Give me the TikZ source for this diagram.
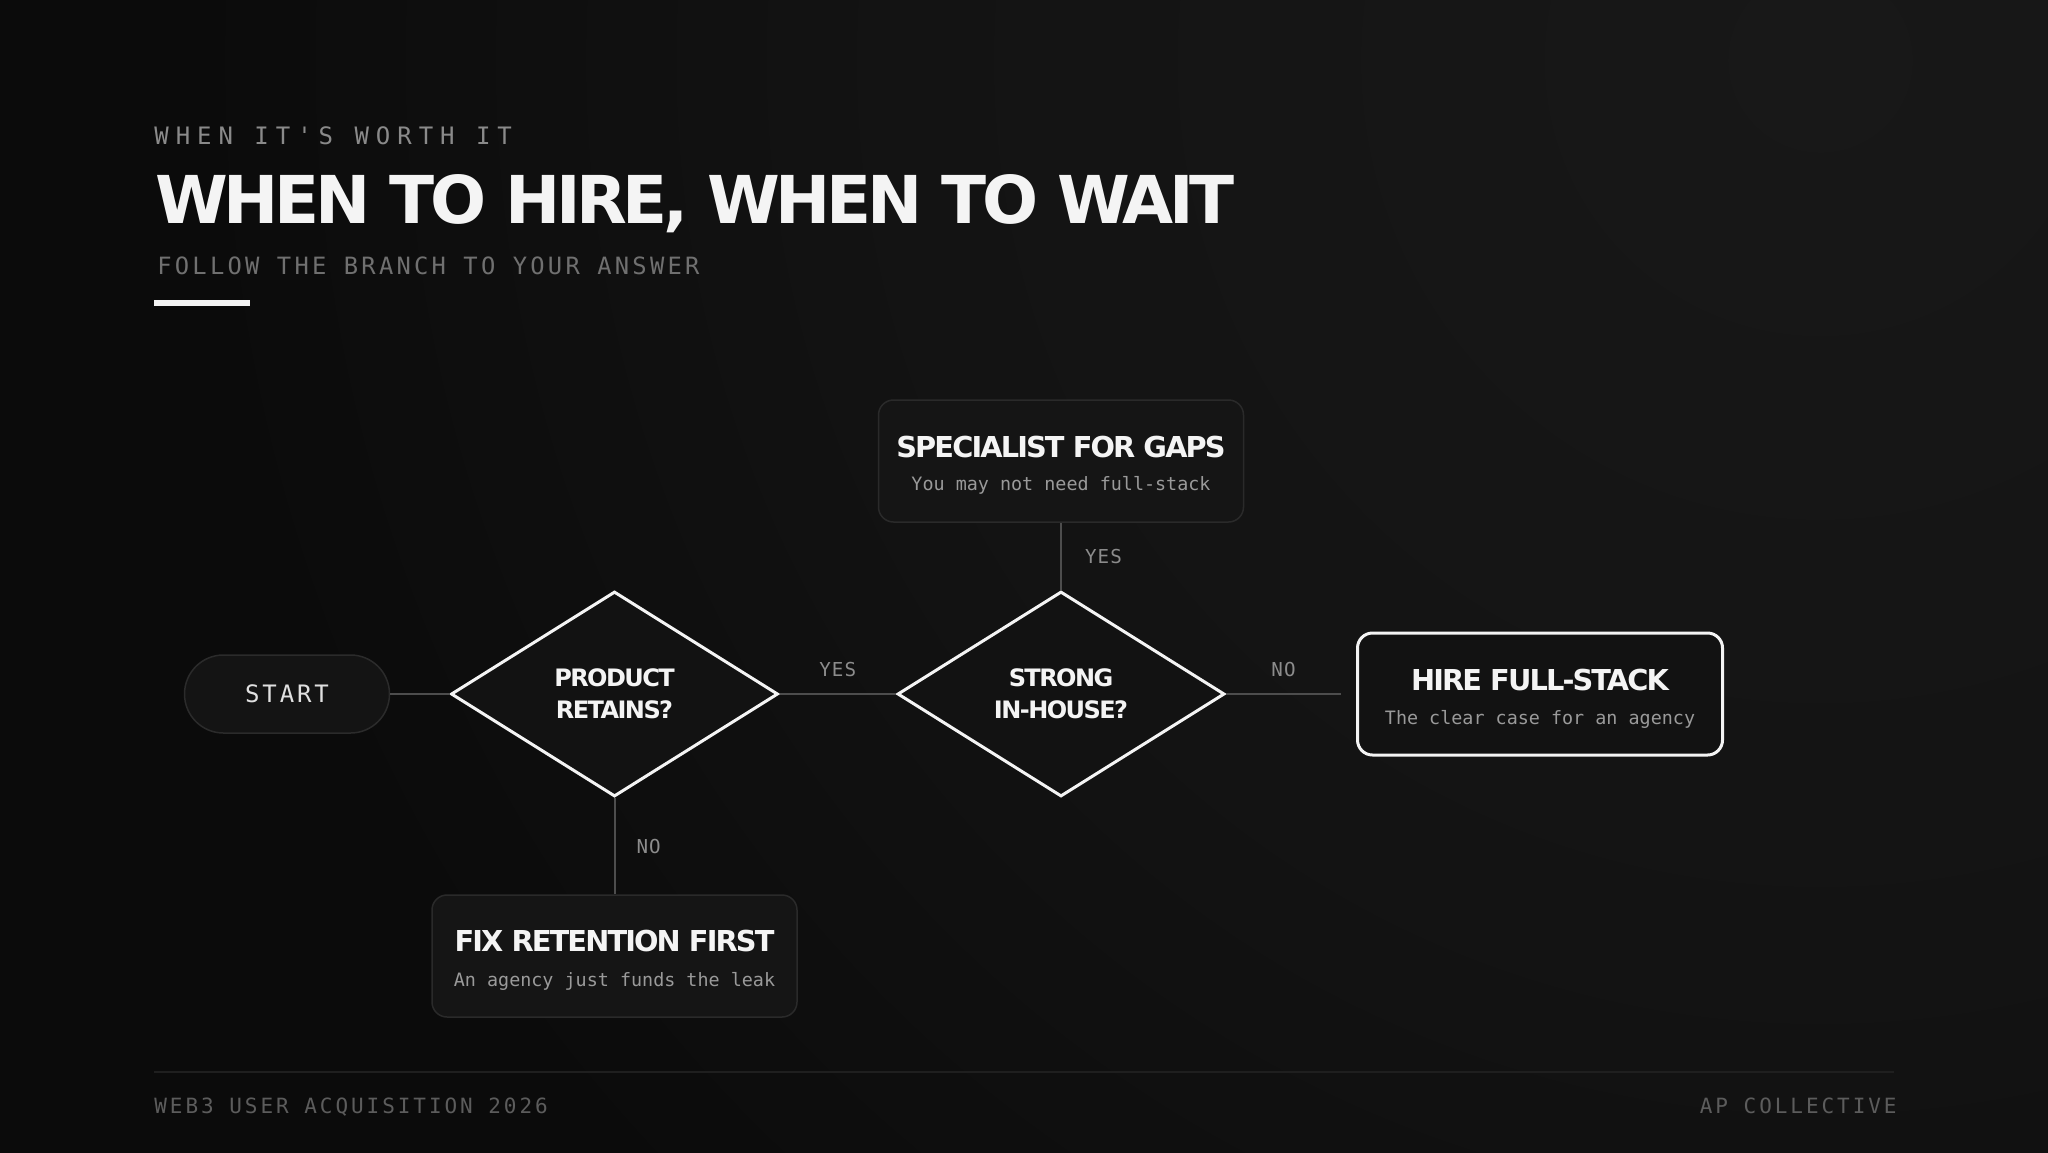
\documentclass[tikz,border=0pt]{standalone}
\usepackage{fontspec}
\usepackage{xcolor}
\usetikzlibrary{shapes.geometric}

\setmainfont{DejaVu Sans}
\newfontfamily\headfont{DejaVu Sans}[LetterSpace=-6.5]
\newfontfamily\notefont{DejaVu Sans Mono}[Ligatures=TeXOff]
\newfontfamily\eyebrowfont{DejaVu Sans Mono}[LetterSpace=29,Ligatures=TeXOff]
\newfontfamily\subheadfont{DejaVu Sans Mono}[LetterSpace=13.5,Ligatures=TeXOff]
\newfontfamily\footfont{DejaVu Sans Mono}[LetterSpace=14,Ligatures=TeXOff]
\newfontfamily\tagfont{DejaVu Sans Mono}[LetterSpace=6,Ligatures=TeXOff]
\newfontfamily\startfont{DejaVu Sans Mono}[LetterSpace=12,Ligatures=TeXOff]

\definecolor{bg}{HTML}{0B0B0B}
\definecolor{glow}{HTML}{181818}
\definecolor{glowmid}{HTML}{131313}
\definecolor{glowlow}{HTML}{0D0D0D}
\definecolor{titlec}{HTML}{F4F4F4}
\definecolor{eyec}{HTML}{8A8A8A}
\definecolor{subc}{HTML}{707070}
\definecolor{footc}{HTML}{5C5C5C}
\definecolor{rulec}{HTML}{1F1F1F}
\definecolor{connc}{HTML}{4D4D4D}
\definecolor{tagc}{HTML}{8C8C8C}
\definecolor{notec}{HTML}{9A9A9A}
\definecolor{startc}{HTML}{E0E0E0}
\definecolor{pillfill}{HTML}{141414}
\definecolor{pillline}{HTML}{2B2B2B}
\definecolor{diamfill}{HTML}{121212}
\definecolor{boxfill}{HTML}{151515}
\definecolor{boxline}{HTML}{2A2A2A}
\definecolor{finalfill}{HTML}{121212}

\pgfdeclareradialshading{topglow}{\pgfpoint{0bp}{0bp}}{color(0bp)=(glow); color(14bp)=(glowmid); color(25bp)=(bg); color(50bp)=(bg)}
\pgfdeclareradialshading{lowglow}{\pgfpoint{0bp}{0bp}}{color(0bp)=(glowlow); color(25bp)=(bg); color(50bp)=(bg)}

\tikzset{
  conn/.style={draw=connc, line width=1pt},
  pill/.style={draw=pillline, fill=pillfill, line width=0.75pt, rounded corners=19.5pt,
    minimum width=102.5pt, minimum height=39pt, text=startc,
    font=\startfont\fontsize{12}{14}\selectfont},
  decision/.style={diamond, draw=titlec, fill=diamfill, line width=1.5pt,
    minimum width=163.5pt, minimum height=102.5pt, inner sep=0pt, align=center,
    text=titlec, font=\headfont\bfseries\fontsize{12}{15.9}\selectfont},
  outcome/.style={draw=boxline, fill=boxfill, line width=0.75pt, rounded corners=7.5pt,
    minimum width=182.5pt, minimum height=61pt},
  final/.style={outcome, draw=titlec, fill=finalfill, line width=1.5pt},
  boxhead/.style={anchor=base, inner sep=0pt, text=titlec,
    font=\headfont\bfseries\fontsize{14.4}{16}\selectfont},
  boxnote/.style={anchor=base, inner sep=0pt, text=notec,
    font=\notefont\fontsize{9.2}{11}\selectfont},
  tag/.style={inner sep=0pt, text=tagc, font=\tagfont\fontsize{9.6}{11}\selectfont},
  plaintext/.style={anchor=base west, inner sep=0pt},
}

\begin{document}
\begin{tikzpicture}[x=0.5pt,y=-0.5pt]
\useasboundingbox (0,0) rectangle (2048,1152);
\fill[bg] (-20,-20) rectangle (2068,1172);
\begin{scope}
\clip (-20,-20) rectangle (2068,1172);
\shade[shading=lowglow] (2048,1152) circle (700pt);
\shade[shading=topglow] (1820,60) circle (820pt);
\end{scope}

% heading
\node[plaintext, text=eyec, font=\eyebrowfont\fontsize{12}{14}\selectfont] (eyebrow) at (154,144) {WHEN IT'S WORTH IT};
\node[plaintext, text=titlec, font=\headfont\bfseries\fontsize{33}{36}\selectfont] (title) at (155,223) {WHEN TO HIRE, WHEN TO WAIT};
\node[plaintext, text=subc, font=\subheadfont\fontsize{11.9}{14}\selectfont] (subtitle) at (157,274) {FOLLOW THE BRANCH TO YOUR ANSWER};
\fill[titlec] (154,300) rectangle (250,306);

% flow
\node[pill] (start) at (287,694) {START};
\node[decision] (retains) at (614.5,694) {PRODUCT\\RETAINS?};
\node[decision] (inhouse) at (1061,694) {STRONG\\IN-HOUSE?};
\node[outcome] (gaps) at (1061,461) {};
\node[final] (fullstack) at (1540,694) {};
\node[outcome] (fixfirst) at (614.5,956) {};

\node[boxhead] (gapshead) at ([yshift=1.75pt]gaps.center) {SPECIALIST FOR GAPS};
\node[boxnote] (gapsnote) at ([yshift=-14.75pt]gaps.center) {You may not need full-stack};
\node[boxhead] (fullhead) at ([yshift=1.75pt]fullstack.center) {HIRE FULL-STACK};
\node[boxnote] (fullnote) at ([yshift=-15pt]fullstack.center) {The clear case for an agency};
\node[boxhead] (fixhead) at ([yshift=2.15pt]fixfirst.center) {FIX RETENTION FIRST};
\node[boxnote] (fixnote) at ([yshift=-15.35pt]fixfirst.center) {An agency just funds the leak};

\draw[conn] (start.east) -- (retains.west);
\draw[conn] (retains.east) -- node[tag, above=8.3pt] (yes1) {YES} (inhouse.west);
\draw[conn] (inhouse.north) -- node[tag, right=11.5pt] (yes2) {YES} (gaps.south);
\draw[conn] (inhouse.east) -- node[tag, above=8.3pt] (no1) {NO} ([xshift=-7.5pt]fullstack.west);
\draw[conn] (retains.south) -- node[tag, right=10.5pt] (no2) {NO} (fixfirst.north);

% footer
\draw[rulec, line width=0.75pt] (154,1072) -- (1894,1072);
\node[plaintext, text=footc, font=\footfont\fontsize{10.5}{12}\selectfont] (footleft) at (154,1113) {WEB3 USER ACQUISITION 2026};
\node[anchor=base east, inner sep=0pt, text=footc, font=\footfont\fontsize{10.5}{12}\selectfont] (footright) at (1897,1113) {AP COLLECTIVE};
\end{tikzpicture}
\end{document}
